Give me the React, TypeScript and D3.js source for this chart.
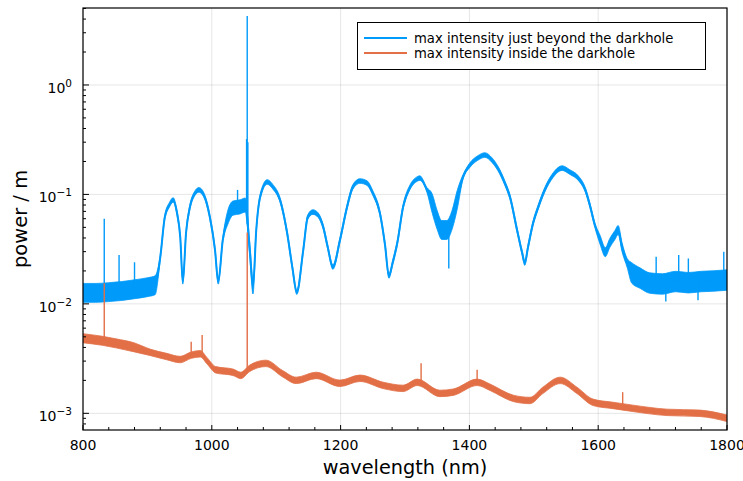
import React from "react";
import * as d3 from "d3";

// ---- data ----
const blueWavelength = [
  800, 820, 840, 860, 880, 900, 912, 920, 927, 934,
  940, 946, 951, 955, 960, 966, 974, 980, 989, 997,
  1005, 1010, 1017, 1025, 1033, 1044, 1052, 1059, 1064, 1069,
  1075, 1086, 1095, 1106, 1117, 1125, 1132, 1142, 1149, 1157,
  1165, 1173, 1180, 1188, 1199, 1210, 1219, 1230, 1241, 1250,
  1261, 1269, 1275, 1281, 1288, 1297, 1308, 1319, 1323, 1334,
  1342, 1350, 1357, 1365, 1373, 1381, 1390, 1401, 1413, 1424,
  1435, 1444, 1455, 1463, 1474, 1482, 1486, 1491, 1499, 1507,
  1517, 1530, 1544, 1556, 1569, 1580, 1587, 1595, 1603, 1611,
  1618, 1626, 1631, 1637, 1645, 1652, 1665, 1680, 1700, 1720,
  1740, 1760, 1780, 1800,
];
const bluePower = [
  0.0126, 0.0126, 0.0128, 0.0131, 0.0136, 0.0142, 0.0148, 0.0267, 0.062, 0.08,
  0.089, 0.0676, 0.0407, 0.0159, 0.0444, 0.0767, 0.103, 0.11, 0.0947, 0.062,
  0.031, 0.0159, 0.0383, 0.062, 0.075, 0.077, 0.08, 0.031, 0.0143, 0.047,
  0.0947, 0.13, 0.117, 0.0889, 0.0444, 0.0217, 0.0128, 0.031, 0.0621, 0.069,
  0.0648, 0.0504, 0.033, 0.0217, 0.0383, 0.0767, 0.117, 0.1326, 0.127, 0.103,
  0.0676, 0.0345, 0.018, 0.024, 0.036, 0.0767, 0.117, 0.1384, 0.141, 0.11,
  0.0835, 0.0583, 0.0473, 0.0473, 0.0583, 0.0889, 0.144, 0.186, 0.215, 0.229,
  0.206, 0.174, 0.127, 0.0947, 0.0473, 0.0291, 0.0236, 0.033, 0.055, 0.077,
  0.11, 0.15, 0.174, 0.16, 0.141, 0.11, 0.08, 0.052, 0.0383, 0.0297,
  0.036, 0.0426, 0.0473, 0.033, 0.0236, 0.0192, 0.0172, 0.0155, 0.0152, 0.016,
  0.0156, 0.016, 0.0162, 0.0165,
];
// noise amplitude (multiplicative half-spread) by wavelength range
const blueNoise: [number, number, number][] = [
  [800, 914, 1.22], [914, 1020, 1.05], [1020, 1068, 1.16], [1068, 1340, 1.05],
  [1340, 1385, 1.22], [1385, 1600, 1.05], [1600, 1650, 1.1], [1650, 1800, 1.24],
];
const blueSpikes: [number, number][] = [
  [833, 0.06], [856, 0.028], [880, 0.024], [1040, 0.11], [1054, 0.32],
  [1055, 4.27], [1056, 0.3], [1368, 0.021], [1690, 0.027], [1705, 0.0105],
  [1725, 0.028], [1740, 0.026], [1755, 0.0108], [1795, 0.03],
];

const orangeWavelength = [
  800, 830, 851, 880, 904, 930, 951, 968, 982, 993,
  1006, 1033, 1045, 1059, 1084, 1110, 1131, 1162, 1199, 1230,
  1266, 1297, 1319, 1354, 1375, 1412, 1432, 1468, 1494, 1514,
  1541, 1567, 1592, 1623, 1654, 1707, 1758, 1800,
];
const orangePower = [
  0.00485, 0.0046, 0.00436, 0.004, 0.00361, 0.0033, 0.0031, 0.0034, 0.0035, 0.003,
  0.0025, 0.00237, 0.00222, 0.00258, 0.00286, 0.0023, 0.002, 0.00222, 0.00188, 0.00209,
  0.0018, 0.00169, 0.00192, 0.00152, 0.00156, 0.00192, 0.00173, 0.00137, 0.00131, 0.00162,
  0.002, 0.00162, 0.00126, 0.00118, 0.00111, 0.00102, 0.001, 0.0009,
];
const orangeNoise: [number, number, number][] = [
  [800, 900, 1.1], [900, 1800, 1.07],
];
const orangeSpikes: [number, number][] = [
  [833, 0.0154], [968, 0.0045], [985, 0.0052], [1055, 0.045], [1325, 0.00286],
  [1412, 0.0025], [1638, 0.00156],
];

const xTicks = [800, 1000, 1200, 1400, 1600, 1800];
const yTickExp = [0, -1, -2, -3];
const legendLabels = [
  "max intensity just beyond the darkhole",
  "max intensity inside the darkhole",
];
const colors = ["#009afa", "#e26f46"];

const W = 743;
const H = 481;
const FONT = "DejaVu Sans, sans-serif";

function noiseAt(noise: [number, number, number][], w: number) {
  for (const [a, b, f] of noise) if (w >= a && w <= b) return f;
  return 1.05;
}
function interpLog(ws: number[], vs: number[], w: number) {
  const i = Math.max(1, Math.min(ws.length - 1, d3.bisectLeft(ws, w)));
  const t = (w - ws[i - 1]) / (ws[i] - ws[i - 1]);
  return Math.pow(10, Math.log10(vs[i - 1]) * (1 - t) + Math.log10(vs[i]) * t);
}

export default function App() {
  const x = d3.scaleLinear().domain([800, 1800]).range([83, 727]);
  const y = d3.scaleLog().domain([7.04e-4, 5.05]).range([430, 8]);
  const [x0, x1] = x.range();
  const [yb, yt] = y.range();

  const series = [
    { w: blueWavelength, v: bluePower, noise: blueNoise, spikes: blueSpikes, color: colors[0] },
    { w: orangeWavelength, v: orangePower, noise: orangeNoise, spikes: orangeSpikes, color: colors[1] },
  ];

  const xMinor = d3.range(800, 1801, 40).filter((t) => t % 200 !== 0);
  const yMinor: number[] = [];
  for (let e = -4; e <= 0; e++)
    for (let m = 2; m <= 9; m++) {
      const v = m * Math.pow(10, e);
      if (v > y.domain()[0] && v < y.domain()[1]) yMinor.push(v);
    }

  return (
    <svg width={W} height={H} style={{ position: "absolute", left: 0, top: 0, background: "#fff" }} fontFamily={FONT}>
      <rect x={0} y={0} width={W} height={H} fill="#fff" />
      <defs>
        <clipPath id="plotclip">
          <rect x={x0} y={yt} width={x1 - x0} height={yb - yt} />
        </clipPath>
      </defs>
      {/* grid */}
      {xTicks.map((t) => (
        <line key={"gx" + t} x1={x(t)} x2={x(t)} y1={yt} y2={yb} stroke="#000" strokeOpacity={0.1} strokeWidth={1} />
      ))}
      {yTickExp.map((e) => (
        <line key={"gy" + e} x1={x0} x2={x1} y1={y(Math.pow(10, e))} y2={y(Math.pow(10, e))} stroke="#000" strokeOpacity={0.1} strokeWidth={1} />
      ))}
      {/* series */}
      <g clipPath="url(#plotclip)">
        {series.map((s, si) => {
          const idx = d3.range(s.w.length);
          const area = d3
            .area<number>()
            .curve(d3.curveMonotoneX)
            .x((i) => x(s.w[i]))
            .y0((i) => y(s.v[i] / noiseAt(s.noise, s.w[i])))
            .y1((i) => y(s.v[i] * noiseAt(s.noise, s.w[i])));
          const line = d3
            .line<number>()
            .curve(d3.curveMonotoneX)
            .x((i) => x(s.w[i]))
            .y((i) => y(s.v[i]));
          return (
            <g key={si}>
              <path d={area(idx) || ""} fill={s.color} stroke={s.color} strokeWidth={0.8} />
              <path d={line(idx) || ""} fill="none" stroke={s.color} strokeWidth={2} />
              {s.spikes.map(([w, v], k) => (
                <line
                  key={k}
                  x1={x(w)}
                  x2={x(w)}
                  y1={y(interpLog(s.w, s.v, w))}
                  y2={y(v)}
                  stroke={s.color}
                  strokeWidth={1.4}
                />
              ))}
            </g>
          );
        })}
      </g>
      {/* frame */}
      <rect x={x0} y={yt} width={x1 - x0} height={yb - yt} fill="none" stroke="#000" strokeWidth={1.2} />
      {/* x ticks */}
      {xTicks.map((t) => (
        <g key={"xt" + t}>
          <line x1={x(t)} x2={x(t)} y1={yb} y2={yb - 5} stroke="#000" strokeWidth={1} />
          <text x={x(t)} y={450} textAnchor="middle" fontSize={14} fill="#000">
            {t}
          </text>
        </g>
      ))}
      {xMinor.map((t) => (
        <line key={"xm" + t} x1={x(t)} x2={x(t)} y1={yb} y2={yb - 3} stroke="#000" strokeWidth={1} />
      ))}
      {/* y ticks */}
      {yTickExp.map((e) => {
        const yy = y(Math.pow(10, e));
        return (
          <g key={"yt" + e}>
            <line x1={x0} x2={x0 + 6} y1={yy} y2={yy} stroke="#000" strokeWidth={1} />
            <text x={72} y={yy + 8} textAnchor="end" fontSize={14} fill="#000">
              10
              <tspan dy={-6} fontSize={10.5}>
                {e === 0 ? "0" : "\u2212" + Math.abs(e)}
              </tspan>
            </text>
          </g>
        );
      })}
      {yMinor.map((v, k) => (
        <line key={"ym" + k} x1={x0} x2={x0 + 3} y1={y(v)} y2={y(v)} stroke="#000" strokeWidth={1} />
      ))}
      {/* axis titles */}
      <text x={(x0 + x1) / 2} y={474} textAnchor="middle" fontSize={19.3} fill="#000">
        wavelength (nm)
      </text>
      <text transform={`translate(27,${(yt + yb) / 2}) rotate(-90)`} textAnchor="middle" fontSize={19.5} fill="#000">
        power / m
      </text>
      {/* legend */}
      <rect x={357.5} y={22.5} width={348} height={47} fill="#fff" stroke="#000" strokeWidth={1} />
      {legendLabels.map((lab, i) => (
        <g key={lab}>
          <line x1={364} x2={407} y1={38 + i * 15} y2={38 + i * 15} stroke={colors[i]} strokeWidth={2} />
          <text x={414} y={38 + i * 15 + 5} fontSize={13.2} fill="#000">
            {lab}
          </text>
        </g>
      ))}
    </svg>
  );
}
